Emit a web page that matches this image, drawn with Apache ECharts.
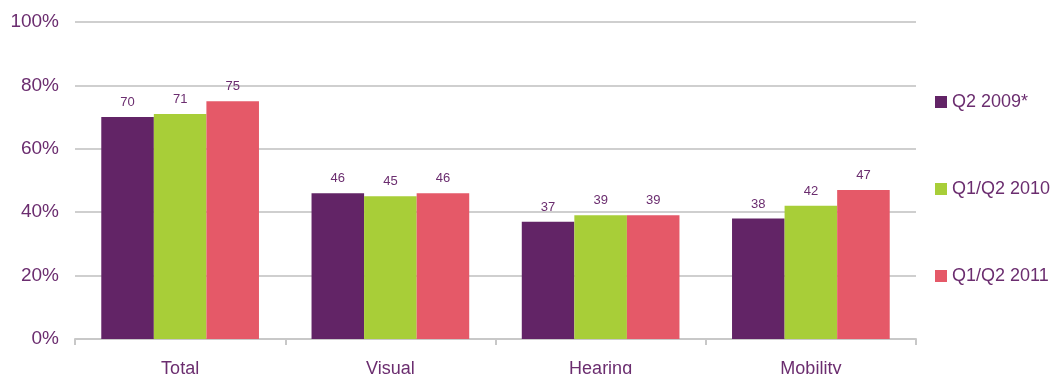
<!DOCTYPE html>
<html><head><meta charset="utf-8">
<script src="https://cdn.jsdelivr.net/npm/echarts@6/dist/echarts.min.js"></script>
<style>html,body{margin:0;padding:0;background:#fff}#c{width:1059px;height:374px}</style>
</head><body><div id="c"></div>
<script>
const categories = ['Total', 'Visual', 'Hearing', 'Mobility'];
const seriesNames = ['Q2 2009*', 'Q1/Q2 2010', 'Q1/Q2 2011'];
const q2_2009 = [70, 46, 37, 38];
const q1q2_2010 = [71, 45, 39, 42];
const q1q2_2011 = [75, 46, 39, 47];
const yTicks = [0, 20, 40, 60, 80, 100];
const colors = ['#622466', '#a8ce38', '#e55968'];
const textColor = '#6b2d6f';
const font = 'Liberation Sans, Arial, sans-serif';

const chart = echarts.init(document.getElementById('c'));
const mk = (name, data, i) => ({
  name, type: 'bar', data,
  itemStyle: { color: colors[i] },
  barGap: '0%', barCategoryGap: '25%',
  label: { show: true, position: 'top', distance: 8, color: textColor, fontSize: 13, fontFamily: font },
  emphasis: { disabled: true }
});
chart.setOption({
  animation: false,
  grid: { left: 75, right: 143, top: 22, bottom: 35, containLabel: false, outerBoundsMode: 'none' },
  legend: {
    orient: 'vertical', left: 930, top: 88, itemWidth: 12, itemHeight: 12, itemGap: 69,
    icon: 'rect', textStyle: { color: textColor, fontSize: 18, fontFamily: font },
    data: seriesNames
  },
  xAxis: {
    type: 'category', data: categories,
    axisLine: { lineStyle: { color: '#c8c8c8', width: 2 } },
    axisTick: { show: true, length: 6, lineStyle: { color: '#c8c8c8', width: 2 } },
    axisLabel: { color: textColor, fontSize: 18, fontFamily: font, margin: 21 }
  },
  yAxis: {
    type: 'value', min: yTicks[0], max: yTicks[yTicks.length - 1], interval: 20,
    axisLine: { show: false }, axisTick: { show: false },
    splitLine: { lineStyle: { color: '#cfcfcf', width: 2 } },
    axisLabel: { color: textColor, fontSize: 19, fontFamily: font, margin: 16, formatter: v => v + '%' }
  },
  series: [mk(seriesNames[0], q2_2009, 0), mk(seriesNames[1], q1q2_2010, 1), mk(seriesNames[2], q1q2_2011, 2)]
});
</script></body></html>
